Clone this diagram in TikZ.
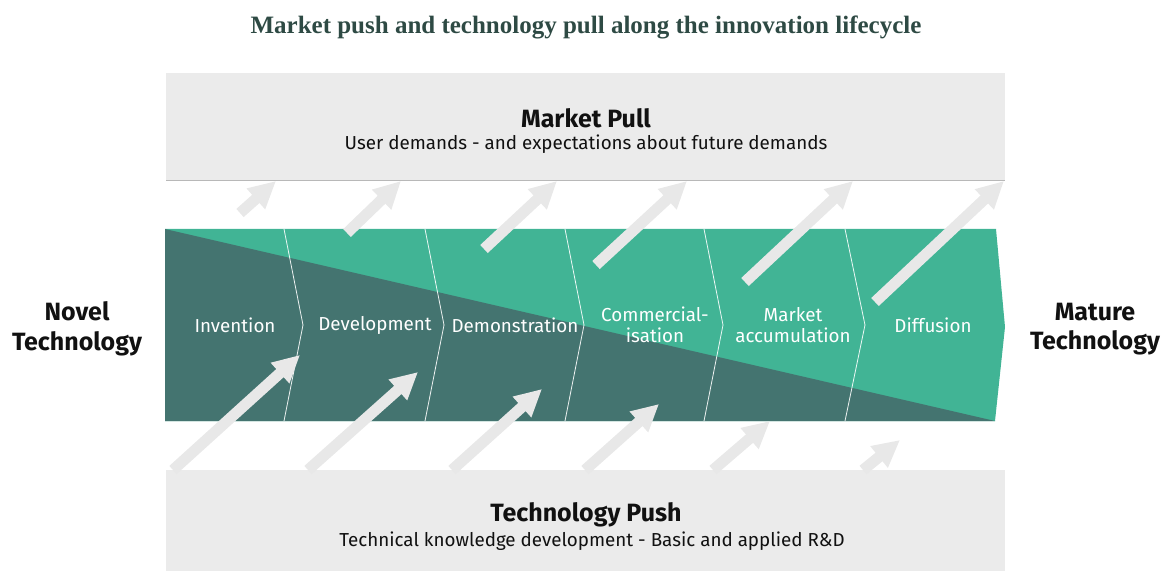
\documentclass[tikz,border=0pt]{standalone}
\usepackage{fontspec}
\setmainfont{Fira Sans}
\newfontfamily\headserif{Liberation Serif}
\usetikzlibrary{arrows.meta}

\definecolor{panelgrey}{HTML}{EBEBEB}
\definecolor{panelline}{HTML}{B8B8B8}
\definecolor{tealband}{HTML}{41B495}
\definecolor{darkband}{HTML}{447470}
\definecolor{arrowgrey}{HTML}{E8E8E8}
\definecolor{titlegreen}{HTML}{2E4A44}
\definecolor{labelblack}{HTML}{111111}

% font size with explicit line spacing
\newcommand{\fszl}[2]{\fontsize{#1}{#2}\selectfont}

\tikzset{
  panel/.style={fill=panelgrey, draw=none},
  stagelabel/.style={text=white, align=center, font=\fszl{18.8pt}{20.5pt}, inner sep=0pt},
  stagediv/.style={draw=white, line width=0.8pt, opacity=0.9},
  endlabel/.style={text=labelblack, align=center, font=\bfseries\fszl{25pt}{29.5pt}, inner sep=0pt},
  paneltitle/.style={text=labelblack, font=\bfseries\fszl{25pt}{30pt}, inner sep=0pt},
  panelsub/.style={text=labelblack, font=\fszl{18.8pt}{22pt}, inner sep=0pt},
  flow/.style={draw=arrowgrey, line width=11pt,
    -{Triangle[width=26pt,length=27pt]}},
}

\begin{document}
\begin{tikzpicture}[x=1pt,y=-1pt]
\useasboundingbox (0,0) rectangle (1168,572);

% title
\node[text=titlegreen, font=\headserif\bfseries\fszl{25pt}{30pt}, inner sep=0pt] (title) at (586,27)
  {Market push and technology pull along the innovation lifecycle};

% upper and lower panels
\fill[panel] (166,73) rectangle (1005,180);
\draw[panelline, line width=1pt] (166,180.5) -- (1005,180.5);
\fill[panel] (166,470) rectangle (1005,571);

\node[paneltitle] (pulltitle) at (586,118) {Market Pull};
\node[panelsub] (pullsub) at (586,144) {User demands - and expectations about future demands};
\node[paneltitle] (pushtitle) at (586,515) {Technology Push};
\node[panelsub] (pushsub) at (592,541) {Technical knowledge development - Basic and applied R\&D};

% lifecycle band: teal arrow with the dark push wedge beneath the diagonal
\fill[tealband] (165,229) -- (996,229) -- (1005,327) -- (995,421) -- (165,421) -- cycle;
\fill[darkband] (165,229) -- (995,421) -- (165,421) -- cycle;

% stage separators (chevrons)
\foreach \xt/\xm in {284/303, 425/444, 565/584, 704/723, 845/865}
  \draw[stagediv] (\xt,229) -- (\xm,325) -- (\xt,421);

% stage labels
\node[stagelabel] (invention) at (235,325) {Invention};
\node[stagelabel] (development) at (375,325) {Development};
\node[stagelabel] (demonstration) at (515,325) {Demonstration};
\node[stagelabel] (commercial) at (655,325) {Commercial-\\isation};
\node[stagelabel] (marketacc) at (793,325) {Market\\accumulation};
\node[stagelabel] (diffusion) at (933,325) {Diffusion};

% end labels
\node[endlabel] (novel) at (77,329) {Novel\\Technology};
\node[endlabel] (mature) at (1095,329) {Mature\\Technology};

% pull arrows, rising from the band into the market panel
\coordinate (pa1) at (240,213);  \coordinate (pb1) at (276,181);
\coordinate (pa2) at (347,233);  \coordinate (pb2) at (401,181);
\coordinate (pa3) at (484,249);  \coordinate (pb3) at (557,181);
\coordinate (pa4) at (596,265);  \coordinate (pb4) at (687,181);
\coordinate (pa5) at (745,282);  \coordinate (pb5) at (853,181);
\coordinate (pa6) at (875,302);  \coordinate (pb6) at (1004,181);
\foreach \i in {1,...,6}
  \draw[flow] (pa\i) -- (pb\i);

% push arrows, rising from the technology panel into the band
\coordinate (qa1) at (173,470);  \coordinate (qb1) at (300,355);
\coordinate (qa2) at (308,470);  \coordinate (qb2) at (418,372);
\coordinate (qa3) at (452,470);  \coordinate (qb3) at (542,389);
\coordinate (qa4) at (585,470);  \coordinate (qb4) at (659,404);
\coordinate (qa5) at (713,470);  \coordinate (qb5) at (770,421);
\coordinate (qa6) at (863,470);  \coordinate (qb6) at (900,440);
\foreach \i in {1,...,6}
  \draw[flow] (qa\i) -- (qb\i);
\end{tikzpicture}
\end{document}
